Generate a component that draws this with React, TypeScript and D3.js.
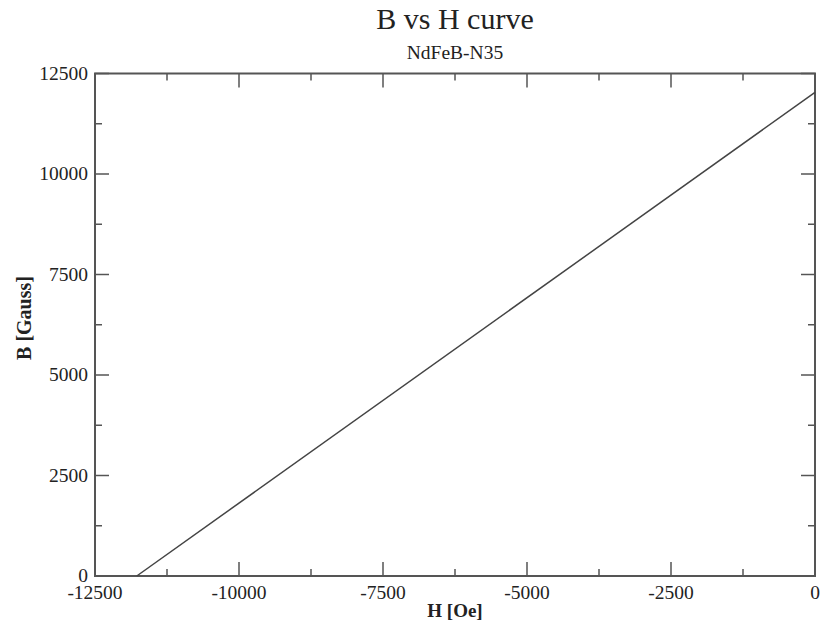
import React from "react";
import * as d3 from "d3";

const H_VALUES = [-11775, 0];
const B_VALUES = [0, 12030];
const X_TICKS = [-12500, -10000, -7500, -5000, -2500, 0];
const Y_TICKS = [0, 2500, 5000, 7500, 10000, 12500];
const TITLE = "B vs H curve";
const SUBTITLE = "NdFeB-N35";
const X_LABEL = "H [Oe]";
const Y_LABEL = "B [Gauss]";

export default function App() {
  const W = 824, H = 628;
  const m = { left: 95, right: 815, top: 73.5, bottom: 576 };
  const x = d3.scaleLinear().domain([-12500, 0]).range([m.left, m.right]);
  const y = d3.scaleLinear().domain([0, 12500]).range([m.bottom, m.top]);
  const xMinor = d3.range(-12500, 1, 1250).filter((v) => !X_TICKS.includes(v));
  const yMinor = d3.range(0, 12501, 1250).filter((v) => !Y_TICKS.includes(v));
  const pts: [number, number][] = H_VALUES.map((h, i) => [h, B_VALUES[i]]);
  const line = d3.line<[number, number]>().x((d) => x(d[0])).y((d) => y(d[1]));
  const stroke = "#444";
  const ff = { fontFamily: "'Liberation Serif', 'Times New Roman', Times, serif" };
  const maj = 14, min = 7;
  const cx = (m.left + m.right) / 2;
  return (
    <svg width={W} height={H} style={{ position: "absolute", left: 0, top: 0 }}>
      <rect width={W} height={H} fill="#fff" />
      <text x={cx} y={29} fontSize={30} textAnchor="middle" fill="#222" style={ff}>{TITLE}</text>
      <text x={cx} y={59} fontSize={19.5} textAnchor="middle" fill="#222" style={ff}>{SUBTITLE}</text>
      <g stroke="#555" strokeWidth={1.5}>
        {X_TICKS.map((v) => (
          <g key={"xt" + v}>
            <line x1={x(v)} x2={x(v)} y1={m.bottom} y2={m.bottom - maj} />
            <line x1={x(v)} x2={x(v)} y1={m.top} y2={m.top + maj} />
          </g>
        ))}
        {xMinor.map((v) => (
          <g key={"xm" + v}>
            <line x1={x(v)} x2={x(v)} y1={m.bottom} y2={m.bottom - min} />
            <line x1={x(v)} x2={x(v)} y1={m.top} y2={m.top + min} />
          </g>
        ))}
        {Y_TICKS.map((v) => (
          <g key={"yt" + v}>
            <line x1={m.left} x2={m.left + maj} y1={y(v)} y2={y(v)} />
            <line x1={m.right} x2={m.right - maj} y1={y(v)} y2={y(v)} />
          </g>
        ))}
        {yMinor.map((v) => (
          <g key={"ym" + v}>
            <line x1={m.left} x2={m.left + min} y1={y(v)} y2={y(v)} />
            <line x1={m.right} x2={m.right - min} y1={y(v)} y2={y(v)} />
          </g>
        ))}
        <rect x={m.left} y={m.top} width={m.right - m.left} height={m.bottom - m.top} fill="none" strokeWidth={2} />
      </g>
      <path d={line(pts) || ""} fill="none" stroke={stroke} strokeWidth={1.5} />
      <g fontSize={19.5} fill="#222">
        {X_TICKS.map((v) => (
          <text key={"xl" + v} x={x(v)} y={599} textAnchor="middle" style={ff}>{v}</text>
        ))}
        {Y_TICKS.map((v) => (
          <text key={"yl" + v} x={88} y={y(v) + 6} textAnchor="end" style={ff}>{v}</text>
        ))}
      </g>
      <text x={cx} y={617} fontSize={19} fontWeight="bold" textAnchor="middle" fill="#222" style={ff}>{X_LABEL}</text>
      <text transform={`translate(31,318) rotate(-90)`} fontSize={20} fontWeight="bold" textAnchor="middle" fill="#222" style={ff}>{Y_LABEL}</text>
    </svg>
  );
}
